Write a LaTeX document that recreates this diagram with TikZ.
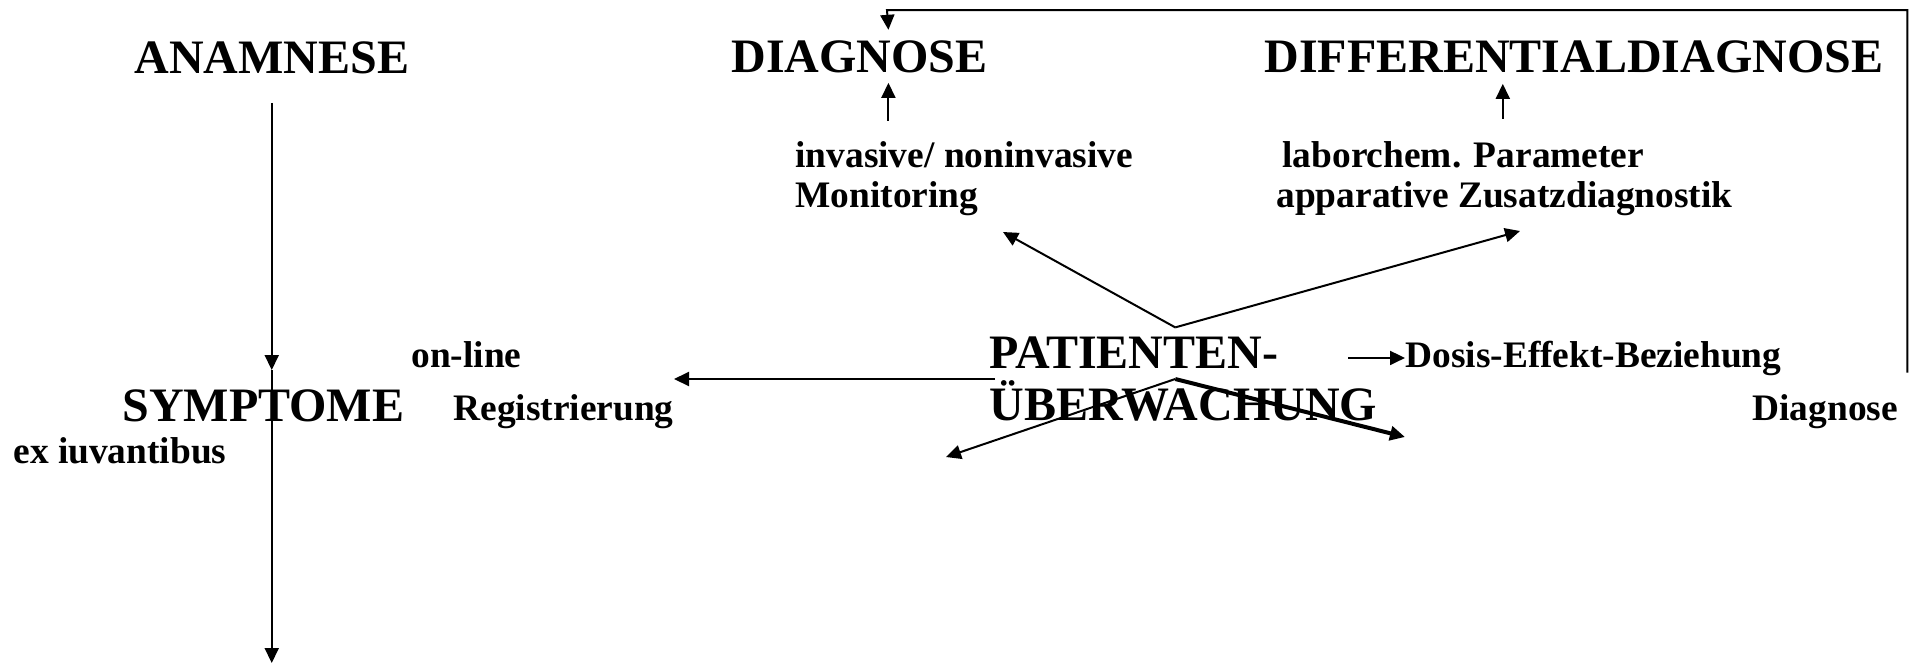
\documentclass[tikz,border=0pt]{standalone}
\usepackage{fontspec}
\setmainfont{Liberation Serif}
\usetikzlibrary{arrows.meta}
\tikzstyle{heading} = [font=\fontsize{24}{26}\selectfont\bfseries, inner xsep=0pt, inner ysep=5pt, anchor=base west]
\tikzstyle{remark} = [font=\fontsize{18.7}{20}\selectfont\bfseries, inner sep=0pt, anchor=base west, align=left]
\tikzstyle{arrow} = [line width=1pt, ->, >={Triangle[length=7.5pt, width=7pt]}]
\begin{document}
\begin{tikzpicture}[x=0.5pt, y=-0.5pt] % one unit = one pixel of the page, y downwards

\useasboundingbox (0,0) rectangle (1916,665);

% Place the nodes
\node (anamnese)  [heading]                          at (134,73)   {ANAMNESE};
\node (diagnose)  [heading]                          at (731,72)   {DIAGNOSE};
\node (diffdiag)  [heading]                          at (1264,72)  {DIFFERENTIALDIAGNOSE};
\node (invasive)  [remark, anchor=west]              at (795,179)  {invasive/ noninvasive\\Monitoring};
\node (laborchem) [remark, anchor=west]              at (1276,179) {\hspace*{3pt}laborchem. Parameter\\apparative Zusatzdiagnostik};
\node (symptome)  [heading]                          at (122,421)  {SYMPTOME};
\node (exiuv)     [remark]                           at (13,463)   {ex iuvantibus};
\node (online)    [remark]                           at (411,367)  {on-line};
\node (registr)   [remark]                           at (453,420)  {Registrierung};
\node (patient)   [heading, align=left, anchor=west, inner ysep=0pt] at (989,379) {PATIENTEN-\\ÜBERWACHUNG};
\node (dosis)     [remark]                           at (1405,367) {Dosis-Effekt-Beziehung};
\node (exdiag)    [remark]                           at (1752,420) {Diagnose};

% Free ends of the connectors
\coordinate (sym_in)  at (272,370);
\coordinate (sym_end) at (272,663);
\coordinate (fb_top)  at (887,10);
\coordinate (mon_tip) at (1003,232);
\coordinate (lab_tip) at (1520,231);
\coordinate (left_tip)  at (946,457);
\coordinate (right_tip) at (1405,437);

% Connect the nodes with arrows
\draw [arrow, shorten <=9.5pt] (anamnese) -- (anamnese |- sym_in);
\draw [arrow] (anamnese |- sym_in) -- (anamnese |- sym_end);
\draw [arrow] ([xshift=14.5pt, yshift=-19pt]diagnose.south) -- ([xshift=14.5pt]diagnose.south);
\draw [arrow] ([xshift=-35.5pt, yshift=-18pt]diffdiag.south) -- ([xshift=-35.5pt, yshift=-0.5pt]diffdiag.south);
\draw [arrow] ([shift={(4.5pt,10.5pt)}]exdiag.north east) |- (fb_top) -- ([xshift=14.5pt]diagnose.north);
\draw [arrow] ([shift={(-4pt,4.5pt)}]patient.north) -- (mon_tip);
\draw [arrow] ([shift={(-4pt,4.5pt)}]patient.north) -- (lab_tip);
\draw [arrow, shorten <=-3pt] (patient.west) -- (patient.west -| registr.east);
\draw [arrow] ([xshift=-4pt]patient.center) -- (left_tip);
\draw [arrow, line width=2pt] ([xshift=-4pt]patient.center) -- (right_tip);
\draw [arrow] ([xshift=-28.5pt]dosis.west) -- (dosis.west);

\end{tikzpicture}
\end{document}
